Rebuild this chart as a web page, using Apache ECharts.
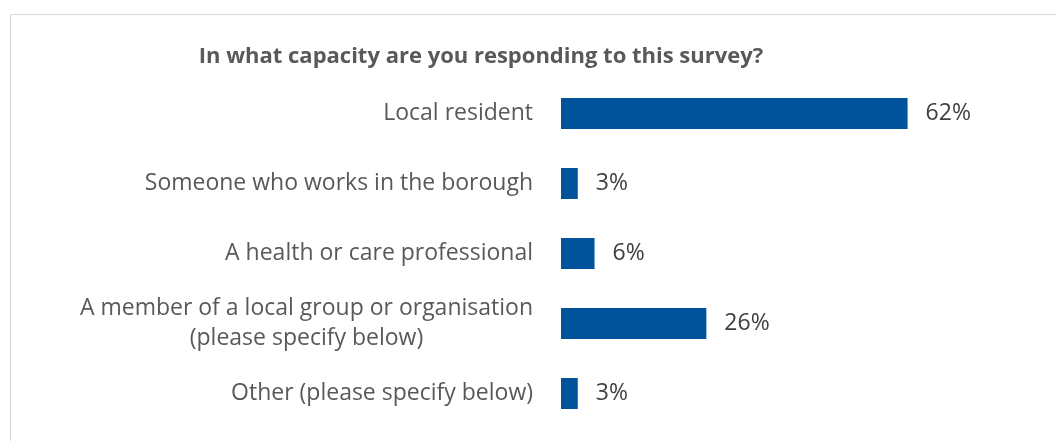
<!DOCTYPE html>
<html>
<head>
<meta charset="utf-8">
<script src="https://cdn.jsdelivr.net/npm/echarts@6/dist/echarts.min.js"></script>
<style>
  html, body { margin: 0; padding: 0; background: #ffffff; }
  #chart { width: 1056px; height: 441px; }
</style>
</head>
<body>
<div id="chart"></div>
<script>
// Survey responses: respondent capacity, share of respondents (%)
const titleText = 'In what capacity are you responding to this survey?';
const categories = [
  'Local resident',
  'Someone who works in the borough',
  'A health or care professional',
  'A member of a local group or organisation\n(please specify below)',
  'Other (please specify below)'
];
const shares = [62, 3, 6, 26, 3];

const FONT = '"Open Sans", "Noto Sans", sans-serif';
const TITLE_SIZE = 22;
const LABEL_SIZE = 23;

// Centre the title over the plotted block
function textWidth(txt, font) {
  const ctx = document.createElement('canvas').getContext('2d');
  ctx.font = font;
  return ctx.measureText(txt).width;
}
const titleCenterX = 481;
const titleW = textWidth(titleText, 'bold ' + TITLE_SIZE + 'px "Open Sans"');

const chart = echarts.init(document.getElementById('chart'), null, { renderer: 'canvas' });

chart.setOption({
  backgroundColor: '#ffffff',
  animation: false,
  title: {
    text: titleText,
    left: titleCenterX - titleW / 2,
    top: 46,
    padding: 0,
    textStyle: {
      fontFamily: FONT,
      fontSize: TITLE_SIZE,
      fontWeight: 'bold',
      color: '#595959'
    }
  },
  graphic: [{
    type: 'rect',
    silent: true,
    shape: { x: 10.5, y: 14.5, width: 1200, height: 600 },
    style: { fill: 'none', stroke: '#d9d9d9', lineWidth: 1 }
  }],
  grid: { left: 561, top: 78.5, width: 391.3, height: 350, outerBoundsMode: 'none' },
  xAxis: {
    type: 'value',
    min: 0,
    max: 70,
    show: false
  },
  yAxis: {
    type: 'category',
    data: categories,
    inverse: true,
    axisLine: { show: false },
    axisTick: { show: false },
    splitLine: { show: false },
    axisLabel: {
      margin: 28,
      fontFamily: FONT,
      fontSize: LABEL_SIZE,
      color: '#595959',
      lineHeight: 30,
      formatter: function (v) {
        return v.split('\n').map(function (line) { return '{c|' + line + '}'; }).join('\n');
      },
      rich: {
        c: { align: 'center', fontFamily: FONT, fontSize: LABEL_SIZE, color: '#595959', lineHeight: 30 }
      }
    }
  },
  series: [{
    type: 'bar',
    data: shares,
    barWidth: 31,
    itemStyle: { color: '#00529b' },
    label: {
      show: true,
      position: 'right',
      distance: 18,
      formatter: '{c}%',
      fontFamily: FONT,
      fontSize: LABEL_SIZE,
      color: '#404040'
    }
  }]
});
</script>
</body>
</html>
